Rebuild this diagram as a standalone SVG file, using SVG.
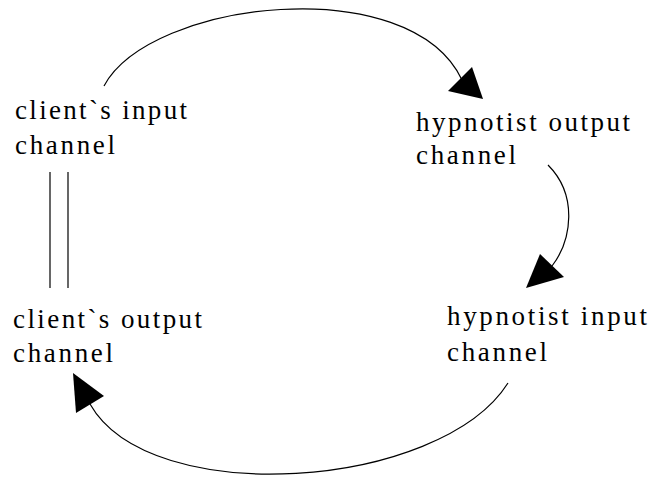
<svg xmlns="http://www.w3.org/2000/svg" width="649" height="478" viewBox="0 0 649 478">
<style>
text{font-family:"Liberation Serif","DejaVu Serif",serif;font-size:27px;fill:#000}
.c{fill:none;stroke:#000;stroke-width:1.2}
.h{fill:#000;stroke:none}
</style>
<rect width="649" height="478" fill="#fff"/>
<g id="connectors">
<path class="c" d="M104,86 C150,0 410,-30 462,80"/>
<polygon class="h" points="483,99 448,91 472,67"/>
<path class="c" d="M548,165 C578,195 572,240 552,266"/>
<polygon class="h" points="526,288 540,254 564,277"/>
<path class="c" d="M508,383 C440,490 150,510 90,404"/>
<polygon class="h" points="73,373 104,396 76,413"/>
<line class="c" x1="50" y1="172" x2="50" y2="288"/>
<line class="c" x1="68" y1="172" x2="68" y2="288"/>
</g>
<g id="client-input">
<text x="15" y="119" textLength="172" lengthAdjust="spacing">client`s input</text>
<text x="15" y="154" textLength="100" lengthAdjust="spacing">channel</text>
</g>
<g id="hypnotist-output">
<text x="416" y="131" textLength="214" lengthAdjust="spacing">hypnotist output</text>
<text x="416" y="164" textLength="100" lengthAdjust="spacing">channel</text>
</g>
<g id="client-output">
<text x="13" y="328" textLength="189" lengthAdjust="spacing">client`s output</text>
<text x="13" y="362" textLength="100" lengthAdjust="spacing">channel</text>
</g>
<g id="hypnotist-input">
<text x="447" y="325" textLength="200" lengthAdjust="spacing">hypnotist input</text>
<text x="447" y="361" textLength="100" lengthAdjust="spacing">channel</text>
</g>
</svg>
